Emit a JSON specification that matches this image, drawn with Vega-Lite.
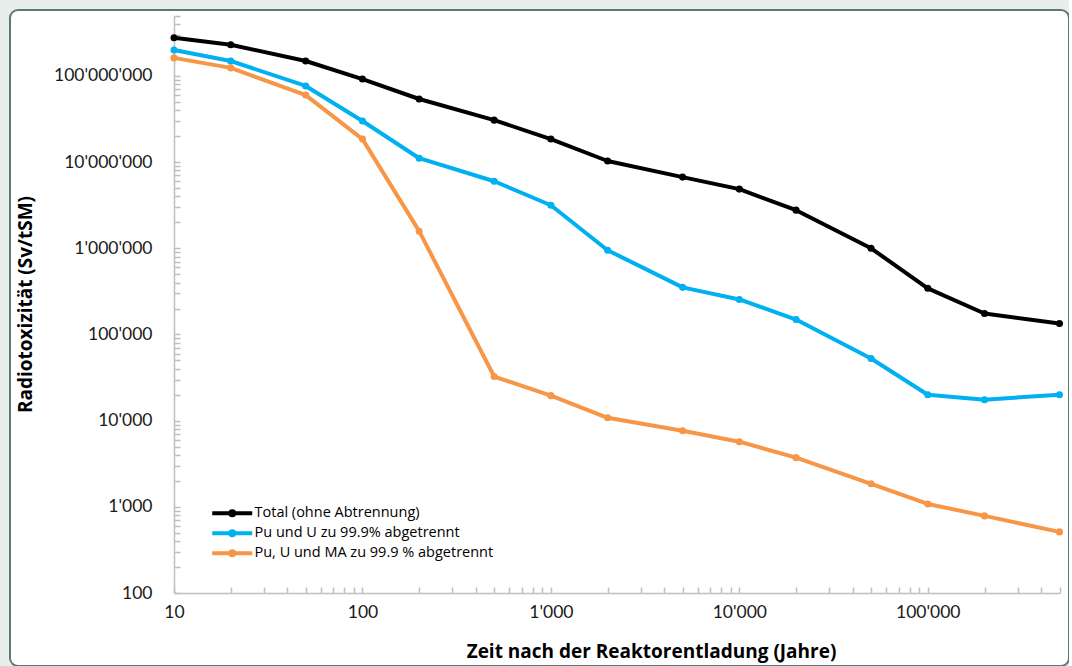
{
  "$schema": "https://vega.github.io/schema/vega-lite/v6.json",
  "autosize": "none",
  "padding": {"left": 10, "top": 10, "right": 0, "bottom": 0},
  "width": 1059,
  "height": 656,
  "background": "#e8eeec",
  "config": {
    "view": {"fill": "#ffffff", "stroke": "#5e7879", "strokeWidth": 2, "cornerRadius": 8},
    "font": "Lato",
    "axis": {
      "grid": false,
      "domainColor": "#bfbfbf",
      "domainWidth": 1.5,
      "tickColor": "#bfbfbf",
      "tickWidth": 1.5,
      "tickSize": -6,
      "labelFont": "Lato",
      "labelFontSize": 17.5,
      "labelColor": "#1a1a1a",
      "labelOverlap": false,
      "labelBound": false,
      "labelFlush": false,
      "titleFont": "Open Sans",
      "titleFontSize": 19,
      "titleFontWeight": "bold",
      "titleColor": "#000000"
    }
  },
  "data": {
    "values": [
      {"t": 10, "v": 277000000, "s": "Total (ohne Abtrennung)"},
      {"t": 20, "v": 230000000, "s": "Total (ohne Abtrennung)"},
      {"t": 50, "v": 149000000, "s": "Total (ohne Abtrennung)"},
      {"t": 100, "v": 92000000, "s": "Total (ohne Abtrennung)"},
      {"t": 200, "v": 54000000, "s": "Total (ohne Abtrennung)"},
      {"t": 500, "v": 30700000, "s": "Total (ohne Abtrennung)"},
      {"t": 1000, "v": 18500000, "s": "Total (ohne Abtrennung)"},
      {"t": 2000, "v": 10300000, "s": "Total (ohne Abtrennung)"},
      {"t": 5000, "v": 6700000, "s": "Total (ohne Abtrennung)"},
      {"t": 10000, "v": 4860000, "s": "Total (ohne Abtrennung)"},
      {"t": 20000, "v": 2770000, "s": "Total (ohne Abtrennung)"},
      {"t": 50000, "v": 1000000, "s": "Total (ohne Abtrennung)"},
      {"t": 100000, "v": 343000, "s": "Total (ohne Abtrennung)"},
      {"t": 200000, "v": 175000, "s": "Total (ohne Abtrennung)"},
      {"t": 500000, "v": 134000, "s": "Total (ohne Abtrennung)"},
      {"t": 10, "v": 200000000, "s": "Pu und U zu 99.9% abgetrennt"},
      {"t": 20, "v": 149000000, "s": "Pu und U zu 99.9% abgetrennt"},
      {"t": 50, "v": 76500000, "s": "Pu und U zu 99.9% abgetrennt"},
      {"t": 100, "v": 30000000, "s": "Pu und U zu 99.9% abgetrennt"},
      {"t": 200, "v": 11100000, "s": "Pu und U zu 99.9% abgetrennt"},
      {"t": 500, "v": 6000000, "s": "Pu und U zu 99.9% abgetrennt"},
      {"t": 1000, "v": 3160000, "s": "Pu und U zu 99.9% abgetrennt"},
      {"t": 2000, "v": 950000, "s": "Pu und U zu 99.9% abgetrennt"},
      {"t": 5000, "v": 352000, "s": "Pu und U zu 99.9% abgetrennt"},
      {"t": 10000, "v": 255000, "s": "Pu und U zu 99.9% abgetrennt"},
      {"t": 20000, "v": 149000, "s": "Pu und U zu 99.9% abgetrennt"},
      {"t": 50000, "v": 52600, "s": "Pu und U zu 99.9% abgetrennt"},
      {"t": 100000, "v": 20000, "s": "Pu und U zu 99.9% abgetrennt"},
      {"t": 200000, "v": 17500, "s": "Pu und U zu 99.9% abgetrennt"},
      {"t": 500000, "v": 20000, "s": "Pu und U zu 99.9% abgetrennt"},
      {"t": 10, "v": 162000000, "s": "Pu, U und MA zu 99.9 % abgetrennt"},
      {"t": 20, "v": 124000000, "s": "Pu, U und MA zu 99.9 % abgetrennt"},
      {"t": 50, "v": 60000000, "s": "Pu, U und MA zu 99.9 % abgetrennt"},
      {"t": 100, "v": 18500000, "s": "Pu, U und MA zu 99.9 % abgetrennt"},
      {"t": 200, "v": 1580000, "s": "Pu, U und MA zu 99.9 % abgetrennt"},
      {"t": 500, "v": 32500, "s": "Pu, U und MA zu 99.9 % abgetrennt"},
      {"t": 1000, "v": 19500, "s": "Pu, U und MA zu 99.9 % abgetrennt"},
      {"t": 2000, "v": 10800, "s": "Pu, U und MA zu 99.9 % abgetrennt"},
      {"t": 5000, "v": 7650, "s": "Pu, U und MA zu 99.9 % abgetrennt"},
      {"t": 10000, "v": 5700, "s": "Pu, U und MA zu 99.9 % abgetrennt"},
      {"t": 20000, "v": 3720, "s": "Pu, U und MA zu 99.9 % abgetrennt"},
      {"t": 50000, "v": 1850, "s": "Pu, U und MA zu 99.9 % abgetrennt"},
      {"t": 100000, "v": 1080, "s": "Pu, U und MA zu 99.9 % abgetrennt"},
      {"t": 200000, "v": 785, "s": "Pu, U und MA zu 99.9 % abgetrennt"},
      {"t": 500000, "v": 512, "s": "Pu, U und MA zu 99.9 % abgetrennt"}
    ]
  },
  "encoding": {
    "x": {
      "field": "t", "type": "quantitative",
      "scale": {"type": "log", "domain": [10, 500000], "range": [164, 1049.5], "nice": false},
      "axis": {
        "orient": "bottom",
        "offset": -73,
        "title": "Zeit nach der Reaktorentladung (Jahre)",
        "titleX": 641, "titleY": 64, "titleBaseline": "alphabetic", "titleAlign": "center",
        "labelPadding": 16,
        "values": [10,20,30,40,50,60,70,80,90,100,200,300,400,500,600,700,800,900,1000,2000,3000,4000,5000,6000,7000,8000,9000,10000,20000,30000,40000,50000,60000,70000,80000,90000,100000,200000,300000,400000,500000],
        "labelExpr": "abs(log(datum.value)/LN10 - round(log(datum.value)/LN10)) < 0.001 ? replace(format(datum.value, ','), regexp(',', 'g'), \"'\") : ''"
      }
    },
    "y": {
      "field": "v", "type": "quantitative",
      "scale": {"type": "log", "domain": [100, 500000000], "range": [583, 5.7], "nice": false},
      "axis": {
        "orient": "left",
        "offset": -164,
        "title": "Radiotoxizität (Sv/tSM)",
        "titleX": -149, "titleY": 294, "titleAngle": -90, "titleAlign": "center", "titleBaseline": "middle",
        "labelPadding": 28,
        "values": [100,200,300,400,500,600,700,800,900,1000,2000,3000,4000,5000,6000,7000,8000,9000,10000,20000,30000,40000,50000,60000,70000,80000,90000,100000,200000,300000,400000,500000,600000,700000,800000,900000,1000000,2000000,3000000,4000000,5000000,6000000,7000000,8000000,9000000,10000000,20000000,30000000,40000000,50000000,60000000,70000000,80000000,90000000,100000000,200000000,300000000,400000000,500000000],
        "labelExpr": "abs(log(datum.value)/LN10 - round(log(datum.value)/LN10)) < 0.001 ? replace(format(datum.value, ','), regexp(',', 'g'), \"'\") : ''"
      }
    },
    "color": {
      "field": "s", "type": "nominal",
      "scale": {
        "domain": ["Total (ohne Abtrennung)", "Pu und U zu 99.9% abgetrennt", "Pu, U und MA zu 99.9 % abgetrennt"],
        "range": ["#000000", "#00b0f0", "#f79646"]
      },
      "legend": {
        "orient": "none",
        "legendX": 215,
        "legendY": 496,
        "title": null,
        "padding": 0,
        "symbolType": "M-4,0H4M0.4,0A0.4,0.4 0 1,1 -0.4,0A0.4,0.4 0 1,1 0.4,0",
        "symbolSize": 100,
        "symbolStrokeWidth": 4,
        "symbolFillColor": null,
        "labelOffset": 15,
        "labelFont": "Open Sans",
        "labelFontSize": 14.5,
        "labelColor": "#000000",
        "rowPadding": -1,
        "labelLimit": 400
      }
    }
  },
  "layer": [
    {"mark": {"type": "line", "strokeWidth": 4, "strokeJoin": "round", "strokeCap": "round"}},
    {"mark": {"type": "point", "filled": true, "size": 50, "opacity": 1}}
  ]
}
